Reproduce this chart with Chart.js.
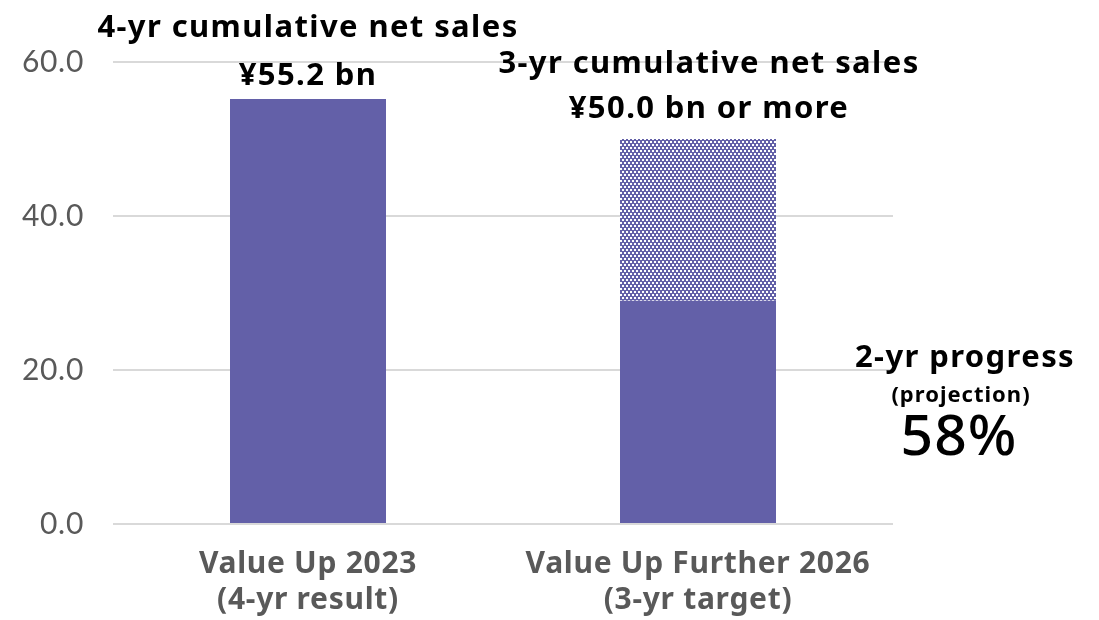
<!DOCTYPE html>
<html>
<head>
<meta charset="utf-8">
<script src="https://cdn.jsdelivr.net/npm/chart.js@4.4.1/dist/chart.umd.min.js"></script>
<style>
  html, body { margin: 0; padding: 0; background: #ffffff; }
  #wrap { position: relative; width: 1099px; height: 620px; }
</style>
</head>
<body>
<div id="wrap"><canvas id="chart" width="1099" height="620"></canvas></div>
<script>
// Category labels (two lines each)
const categories = [
  ['Value Up 2023', '(4-yr result)'],
  ['Value Up Further 2026', '(3-yr target)']
];
// Cumulative net sales, ¥ bn
const achievedValues = [55.2, 29.0];   // solid part
const remainingValues = [null, 21.0];  // hatched part up to the target
// Y-axis ticks
const tickValues = [0, 20, 40, 60];
// Labels above each bar
const barHeadlines = [
  ['4-yr cumulative net sales', '¥55.2 bn'],
  ['3-yr cumulative net sales', '¥50.0 bn or more']
];
// Side note about progress
const progressTitle = '2-yr progress';
const progressSub = '(projection)';
const progressValue = '58%';

const PURPLE = '#6360a8';
const FONT = '"Noto Sans", Lato, sans-serif';
const TICK_FONT = 'Lato, "Noto Sans", sans-serif';

function makePattern() {
  const c = document.createElement('canvas');
  c.width = 4; c.height = 6;
  const g = c.getContext('2d');
  g.fillStyle = PURPLE;
  g.fillRect(0, 0, 4, 6);
  g.fillStyle = '#ffffff';
  g.fillRect(0, 0, 2, 2);
  g.fillRect(2, 3, 2, 2);
  return g.createPattern(c, 'repeat');
}

// widen glyph spacing for axis text
const spacing = {
  id: 'spacing',
  beforeDraw(chart) { chart.ctx.letterSpacing = '0.7px'; },
  afterDraw(chart) { chart.ctx.letterSpacing = '0px'; }
};

const annotations = {
  id: 'annotations',
  afterDatasetsDraw(chart) {
    const { ctx, scales: { x, y }, chartArea } = chart;
    ctx.save();
    ctx.letterSpacing = '1.4px';
    ctx.fillStyle = '#000000';
    ctx.textAlign = 'center';
    ctx.textBaseline = 'alphabetic';
    ctx.font = 'bold 31px ' + FONT;
    // headline over bar 1
    const top0 = y.getPixelForValue(achievedValues[0]);
    const cx0 = x.getPixelForValue(0);
    ctx.fillText(barHeadlines[0][0], cx0, top0 - 62);
    ctx.fillText(barHeadlines[0][1], cx0, top0 - 14);
    // headline over bar 2
    const total1 = achievedValues[1] + remainingValues[1];
    const top1 = y.getPixelForValue(total1);
    const cx1 = x.getPixelForValue(1) + 11;
    ctx.fillText(barHeadlines[1][0], cx1, top1 - 66);
    ctx.fillText(barHeadlines[1][1], cx1, top1 - 21);
    // progress note at the right
    const px = chartArea.right + 72;
    ctx.fillText(progressTitle, px, 367);
    ctx.font = 'bold 22px ' + FONT;
    ctx.letterSpacing = '1px';
    ctx.fillText(progressSub, px - 4, 402);
    ctx.font = '500 57px ' + FONT;
    ctx.fillText(progressValue, px - 6, 455);
    ctx.restore();
  }
};

new Chart(document.getElementById('chart'), {
  type: 'bar',
  data: {
    labels: categories,
    datasets: [
      {
        label: 'Achieved',
        data: achievedValues,
        backgroundColor: PURPLE,
        borderWidth: 0,
        barPercentage: 0.4,
        categoryPercentage: 1.0
      },
      {
        label: 'Remaining to target',
        data: remainingValues,
        backgroundColor: makePattern(),
        borderWidth: 0,
        barPercentage: 0.4,
        categoryPercentage: 1.0
      }
    ]
  },
  options: {
    responsive: false,
    animation: false,
    devicePixelRatio: 1,
    layout: { padding: { top: 62, right: 206, bottom: 0, left: 0 } },
    plugins: {
      legend: { display: false },
      tooltip: { enabled: false }
    },
    scales: {
      x: {
        stacked: true,
        grid: { display: false },
        border: { display: false },
        ticks: {
          color: '#595959',
          font: { family: FONT, size: 30, weight: 'bold', lineHeight: 1.2 },
          padding: 14
        },
        afterFit(scale) { scale.height = 96; }
      },
      y: {
        stacked: true,
        min: 0,
        max: 60,
        afterBuildTicks(scale) { scale.ticks = tickValues.map(v => ({ value: v })); },
        grid: { color: '#d9d9d9', lineWidth: 2, drawTicks: false },
        border: { display: false },
        ticks: {
          color: '#595959',
          font: { family: TICK_FONT, size: 30 },
          padding: 29,
          callback: v => Number(v).toFixed(1)
        },
        afterFit(scale) { scale.width = 113; }
      }
    }
  },
  plugins: [spacing, annotations]
});
</script>
</body>
</html>
